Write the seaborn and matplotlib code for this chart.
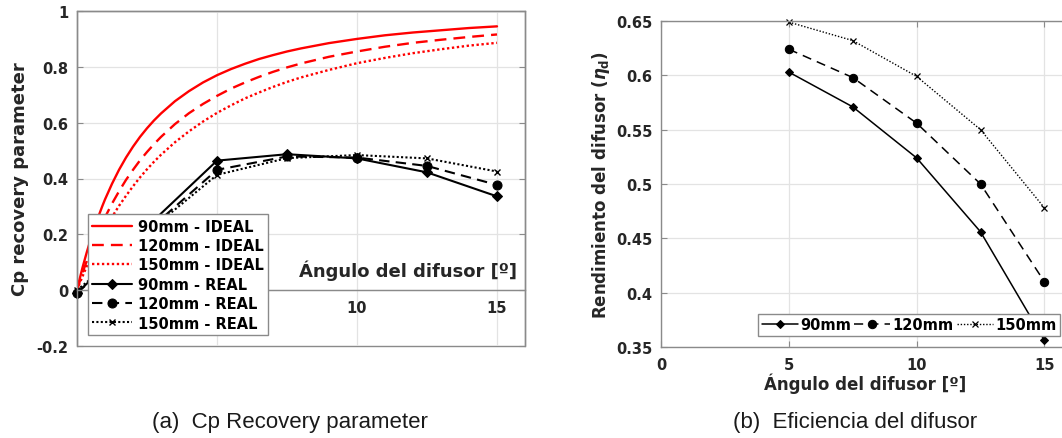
import numpy as np
import pandas as pd
import matplotlib
matplotlib.use("Agg")
import matplotlib.pyplot as plt
import seaborn as sns

# ---------------- data ----------------
# Ideal Cp curves
angle_ideal = [0, 0.1, 0.2, 0.25, 0.35, 0.5, 0.6, 0.75, 0.9, 1,
               1.25, 1.5, 1.75, 2, 2.25, 2.5, 2.75, 3, 3.5, 4,
               4.5, 5, 5.5, 6, 6.5, 7, 7.5, 8, 9, 10,
               11, 12, 13, 14, 15]
cp_ideal_90 = [0, 0.042, 0.082, 0.100, 0.136, 0.186, 0.217, 0.260, 0.300, 0.325,
               0.381, 0.431, 0.475, 0.514, 0.549, 0.580, 0.608, 0.633, 0.677, 0.713,
               0.744, 0.770, 0.792, 0.811, 0.828, 0.842, 0.855, 0.866, 0.885, 0.900,
               0.913, 0.923, 0.931, 0.939, 0.945]
cp_ideal_120 = [0, 0.032, 0.062, 0.077, 0.105, 0.145, 0.170, 0.206, 0.240, 0.261,
                0.310, 0.354, 0.395, 0.431, 0.465, 0.495, 0.523, 0.549, 0.595, 0.634,
                0.667, 0.696, 0.722, 0.744, 0.764, 0.782, 0.798, 0.812, 0.836, 0.855,
                0.872, 0.886, 0.897, 0.907, 0.916]
cp_ideal_150 = [0, 0.026, 0.050, 0.062, 0.086, 0.119, 0.140, 0.171, 0.200, 0.218,
                0.262, 0.302, 0.338, 0.372, 0.404, 0.433, 0.460, 0.485, 0.530, 0.569,
                0.604, 0.635, 0.662, 0.687, 0.708, 0.728, 0.746, 0.762, 0.789, 0.813,
                0.832, 0.849, 0.863, 0.876, 0.886]

# Real Cp measurements
angle_real = [0, 5, 7.5, 10, 12.5, 15]
cp_real_90 = [-0.01, 0.464, 0.487, 0.472, 0.422, 0.336]
cp_real_120 = [-0.01, 0.431, 0.479, 0.475, 0.445, 0.377]
cp_real_150 = [0.0, 0.413, 0.473, 0.484, 0.472, 0.425]

# Diffuser efficiency
angle_eff = [5, 7.5, 10, 12.5, 15]
eff_90 = [0.603, 0.571, 0.524, 0.456, 0.356]
eff_120 = [0.624, 0.598, 0.556, 0.500, 0.410]
eff_150 = [0.649, 0.632, 0.599, 0.550, 0.478]

left_yticks = [-0.2, 0, 0.2, 0.4, 0.6, 0.8, 1.0]
left_yticklabels = ["-0.2", "0", "0.2", "0.4", "0.6", "0.8", "1"]
left_xticks = [0, 5, 10, 15]
left_xticklabels = ["", "", "10", "15"]
right_yticks = [0.35, 0.40, 0.45, 0.50, 0.55, 0.60, 0.65]
right_yticklabels = ["0.35", "0.4", "0.45", "0.5", "0.55", "0.6", "0.65"]
right_xticks = [0, 5, 10, 15]
right_xticklabels = ["0", "5", "10", "15"]

# ---------------- style ----------------
sns.set_theme(style="white")
plt.rcParams["font.family"] = ["DejaVu Sans"]
plt.rcParams["font.weight"] = "bold"
plt.rcParams["axes.labelweight"] = "bold"
plt.rcParams["mathtext.fontset"] = "dejavusans"

SPINE = "#8a8a8a"
GRID = "#e3e3e3"
TXT = "#262626"
FS = 10.5

fig = plt.figure(figsize=(10.62, 4.39), dpi=100)
W, H = 1062, 439
ax1 = fig.add_axes([77 / W, 1 - 347 / H, (525 - 77) / W, (347 - 12) / H])
ax2 = fig.add_axes([661 / W, 1 - 348 / H, (1070 - 661) / W, (348 - 22) / H])

# ---------------- left plot ----------------
df_ideal = pd.DataFrame({"angle": angle_ideal, "c90": cp_ideal_90, "c120": cp_ideal_120, "c150": cp_ideal_150})
df_real = pd.DataFrame({"angle": angle_real, "c90": cp_real_90, "c120": cp_real_120, "c150": cp_real_150})

sns.lineplot(data=df_ideal, x="angle", y="c90", ax=ax1, color="red", lw=1.7, label="90mm - IDEAL")
sns.lineplot(data=df_ideal, x="angle", y="c120", ax=ax1, color="red", lw=1.7, label="120mm - IDEAL")
ax1.lines[-1].set_dashes((5, 3))
sns.lineplot(data=df_ideal, x="angle", y="c150", ax=ax1, color="red", lw=1.7, label="150mm - IDEAL")
ax1.lines[-1].set_dashes((1, 1.1))

sns.lineplot(data=df_real, x="angle", y="c90", ax=ax1, color="black", lw=1.5, marker="D",
             markersize=5.5, markeredgecolor="black", label="90mm - REAL", clip_on=False)
sns.lineplot(data=df_real, x="angle", y="c120", ax=ax1, color="black", lw=1.5, marker="o",
             markersize=6.5, markeredgecolor="black", label="120mm - REAL", clip_on=False)
ax1.lines[-1].set_dashes((5, 3))
sns.lineplot(data=df_real, x="angle", y="c150", ax=ax1, color="black", lw=1.5, marker="x",
             markersize=5, markeredgewidth=1.0, markeredgecolor="black", label="150mm - REAL", clip_on=False)
ax1.lines[-1].set_dashes((1, 1.1))

ax1.set_xlim(0, 16)
ax1.set_ylim(-0.2, 1.0)
ax1.set_xticks(left_xticks)
ax1.set_xticklabels(left_xticklabels)
ax1.set_yticks(left_yticks)
ax1.set_yticklabels(left_yticklabels)
ax1.grid(True, color=GRID, lw=0.9)
ax1.set_axisbelow(True)
for s in ax1.spines.values():
    s.set_color(SPINE)
    s.set_linewidth(1.0)
ax1.spines["bottom"].set_position(("data", 0))
ax1.patch.set_edgecolor(SPINE)
ax1.patch.set_linewidth(1.0)
ax1.tick_params(axis="both", direction="in", length=4, width=0.8, color=SPINE,
                labelsize=FS, labelcolor=TXT, right=True, left=True)
ax1.tick_params(axis="x", pad=7)
ax1.tick_params(axis="y", pad=6)
for lab in ax1.get_xticklabels() + ax1.get_yticklabels():
    lab.set_fontweight("bold")

ax1.set_ylabel("Cp recovery parameter", fontsize=13, color=TXT)
ax1.yaxis.set_label_coords(-0.108, 0.5)
ax1.set_xlabel("Ángulo del difusor [º]", fontsize=13, color=TXT)
ax1.xaxis.label.set_ha("right")
ax1.xaxis.label.set_va("center")
ax1.xaxis.set_label_coords(0.982, 0.227)

leg1 = ax1.legend(loc="lower left", bbox_to_anchor=(0.0246, 0.033), borderaxespad=0,
                  fontsize=FS, frameon=True, fancybox=False, framealpha=1, edgecolor=SPINE,
                  handlelength=2.75, handletextpad=0.35, labelspacing=0.3, borderpad=0.3)
leg1.get_frame().set_linewidth(1.0)
for t in leg1.get_texts():
    t.set_fontweight("bold")
    t.set_color("black")
leg1.set_zorder(10)

# ---------------- right plot ----------------
df_eff = pd.DataFrame({"angle": angle_eff, "e90": eff_90, "e120": eff_120, "e150": eff_150})
sns.lineplot(data=df_eff, x="angle", y="e90", ax=ax2, color="black", lw=1.1, marker="D",
             markersize=4.5, markeredgecolor="black", label="90mm", clip_on=False)
sns.lineplot(data=df_eff, x="angle", y="e120", ax=ax2, color="black", lw=1.1, marker="o",
             markersize=6, markeredgecolor="black", label="120mm", clip_on=False)
ax2.lines[-1].set_dashes((6, 4))
sns.lineplot(data=df_eff, x="angle", y="e150", ax=ax2, color="black", lw=1.0, marker="x",
             markersize=4.5, markeredgewidth=0.9, markeredgecolor="black", label="150mm", clip_on=False)
ax2.lines[-1].set_dashes((1, 1.3))

ax2.set_xlim(0, 16)
ax2.set_ylim(0.35, 0.65)
ax2.set_xticks(right_xticks)
ax2.set_xticklabels(right_xticklabels)
ax2.set_yticks(right_yticks)
ax2.set_yticklabels(right_yticklabels)
ax2.grid(True, color=GRID, lw=0.9)
ax2.set_axisbelow(True)
for s in ax2.spines.values():
    s.set_color(SPINE)
    s.set_linewidth(1.0)
ax2.tick_params(axis="both", direction="in", length=4, width=0.8, color=SPINE,
                labelsize=FS, labelcolor=TXT, top=True, right=True, left=True, bottom=True)
ax2.tick_params(axis="x", pad=7)
ax2.tick_params(axis="y", pad=6)
for lab in ax2.get_xticklabels() + ax2.get_yticklabels():
    lab.set_fontweight("bold")

ax2.set_ylabel(r"Rendimiento del difusor ($\eta_\mathbf{d}$)", fontsize=12, color=TXT)
ax2.yaxis.set_label_coords(-0.12, 0.5)
ax2.set_xlabel("Ángulo del difusor [º]", fontsize=12, color=TXT)
ax2.xaxis.label.set_va("center")
ax2.xaxis.set_label_coords(0.5, -0.11)

leg2 = ax2.legend(loc="lower left", bbox_to_anchor=(0.237, 0.034), borderaxespad=0, ncol=3,
                  fontsize=10.5, frameon=True, fancybox=False, framealpha=1, edgecolor=SPINE,
                  handlelength=2.5, handletextpad=0.15, columnspacing=0.2, borderpad=0.25)
leg2.get_frame().set_linewidth(1.0)
for t in leg2.get_texts():
    t.set_fontweight("bold")
    t.set_color("black")

# ---------------- captions ----------------
fig.text(290 / W, 1 - 423 / H, "(a)  Cp Recovery parameter", ha="center", va="center",
         fontsize=16, fontweight="normal", family=["Liberation Sans"], color="#1a1a1a")
fig.text(855 / W, 1 - 423 / H, "(b)  Eficiencia del difusor", ha="center", va="center",
         fontsize=16, fontweight="normal", family=["Liberation Sans"], color="#1a1a1a")

fig.savefig("out.png", dpi=100)
